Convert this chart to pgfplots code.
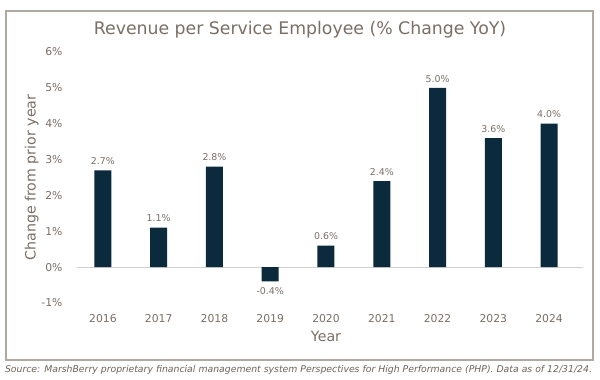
\documentclass[border=0pt]{standalone}
\usepackage{pgfplots}
\pgfplotsset{compat=1.18}
\usepackage{graphicx}
\usepackage{fontspec}
\setmainfont{DejaVu Sans}
\definecolor{txt}{HTML}{7A6F66}
\definecolor{barc}{HTML}{0B2B3C}
\definecolor{framec}{HTML}{B0A9A2}
\begin{document}
\begin{tikzpicture}
\path[use as bounding box, fill=white] (0,0) rectangle (600pt,380pt);
\draw[framec, line width=1.2pt] (6pt,20pt) rectangle (593pt,369pt);
\node[txt, font=\fontsize{17.3}{20}\selectfont] at (300pt,350pt) {Revenue per Service Employee (\% Change YoY)};
\begin{axis}[
  at={(75pt,77pt)}, anchor=south west,
  width=502pt, height=251pt, scale only axis,
  xmin=-0.5, xmax=8.5, ymin=-1, ymax=6,
  clip=false,
  axis line style={draw=none},
  major tick length=0pt,
  ytick={-1,0,1,2,3,4,5,6},
  yticklabel={\pgfmathprintnumber{\tick}\%},
  xtick={0,1,2,3,4,5,6,7,8},
  xticklabels={2016,2017,2018,2019,2020,2021,2022,2023,2024},
  /pgf/number format/assume math mode=true,
  tick label style={txt, font=\fontsize{10.8}{13}\selectfont},
  yticklabel style={xshift=-9pt},
  xticklabel style={yshift=-8pt},
  every axis y label/.style={at={(axis description cs:-0.086,0.5)}, rotate=90, anchor=center},
  every axis x label/.style={at={(axis description cs:0.5,-0.135)}, anchor=center},
  ylabel={Change from prior year},
  xlabel={Year},
  label style={txt, font=\fontsize{14.2}{17}\selectfont},
]
\addplot[forget plot, draw=black!18, line width=0.8pt] coordinates {(-0.46,0) (8.6,0)};
\addplot[ybar, bar width=17pt, fill=barc, draw=none,
  nodes near coords={\pgfmathprintnumber[fixed,fixed zerofill,precision=1]{\pgfplotspointmeta}\%},
  nodes near coords style={txt, font=\fontsize{9.4}{11}\selectfont, inner sep=5.5pt, /pgf/number format/assume math mode=true},
] coordinates {(0,2.7) (1,1.1) (2,2.8) (3,-0.4) (4,0.6) (5,2.4) (6,5.0) (7,3.6) (8,4.0)};
\end{axis}
\node[txt!90!black, anchor=center] at (298.5pt,10pt) {\resizebox{587pt}{!}{\itshape Source: MarshBerry proprietary financial management system Perspectives for High Performance (PHP). Data as of 12/31/24.}};
\end{tikzpicture}
\end{document}
